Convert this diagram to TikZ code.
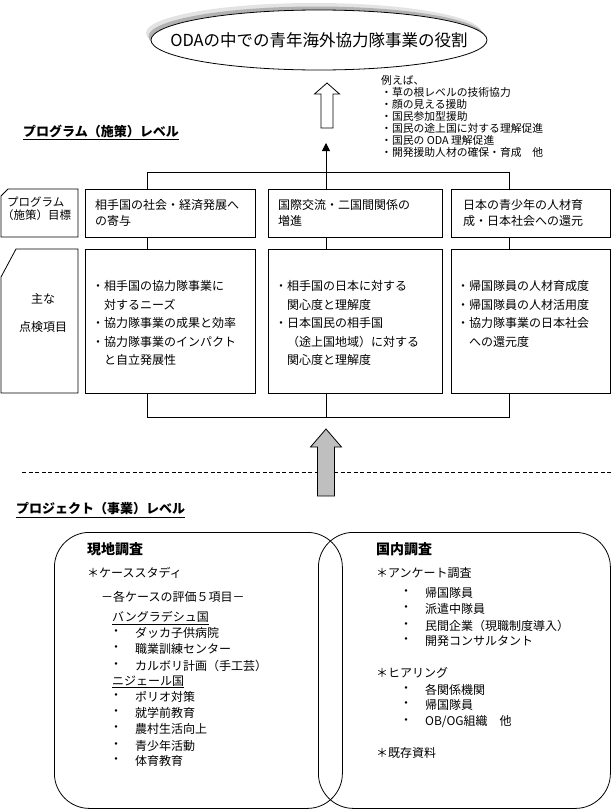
\documentclass[tikz,border=0pt]{standalone}
\usepackage{fontspec}
\setmainfont{Noto Sans CJK JP}
\usetikzlibrary{
  arrows.meta,
  positioning,
  shadows,
  shapes.geometric,
}
\tikzstyle{link} = [line width=0.8pt]
\tikzstyle{box} = [
  draw,
  line width=0.8pt,
  rectangle,
  anchor=north west,
  inner sep=0pt,
]
\tikzstyle{survey} = [
  draw,
  line width=0.8pt,
  rectangle,
  rounded corners=35pt,
  anchor=north west,
  inner sep=0pt,
]
\tikzstyle{goal} = [
  ellipse,
  draw,
  line width=0.8pt,
  fill=white,
  minimum width=336pt,
  minimum height=60pt,
  drop shadow={shadow xshift=-5pt, shadow yshift=7pt, fill=gray!22, opacity=1},
  drop shadow={shadow xshift=-2.5pt, shadow yshift=3.5pt, fill=gray!60, opacity=1},
]
\tikzstyle{txt} = [anchor=base west, inner sep=0pt, align=left, font=\fontsize{12}{16}\selectfont]
\tikzstyle{item} = [anchor=west, inner sep=0pt, font=\fontsize{12}{14}\selectfont]
\tikzstyle{level} = [anchor=west, inner sep=0pt, font=\fontsize{13}{15}\selectfont\bfseries]

\begin{document}
\begin{tikzpicture}[x=1pt, y=-1pt]
        \useasboundingbox (0,0) rectangle (612,811);

        \node [goal] (role) at (319,40) {};
        \node [font=\fontsize{16.5}{18}\selectfont] (roletext) at (role.center)
              {ODAの中での青年海外協力隊事業の役割};

        \coordinate (uptip) at (327,83);
        \draw [link, fill=white] (uptip) -- ++(12.5,11) -- ++(-6.5,0) -- ++(0,34)
              -- ++(-12,0) -- ++(0,-34) -- ++(-6.5,0) -- cycle;

        \node [txt, font=\fontsize{10.8}{12}\selectfont] (examples) at (381,156)
              {例えば、\\・草の根レベルの技術協力\\・顔の見える援助\\・国民参加型援助\\%
               ・国民の途上国に対する理解促進\\・国民の ODA 理解促進\\・開発援助人材の確保・育成　他};

        \node [level] (proglevel) at (23,132) {\underline{プログラム（施策）レベル}};

        \coordinate (jl) at (147,172);
        \coordinate (jm) at (326,172);
        \coordinate (jr) at (509,172);
        \coordinate (pointer) at (326,143);
        \draw [link] (jl) -- (jr);
        \draw [link, -{Triangle[width=8pt,length=8pt]}] (jm) -- (pointer);

        \draw [link] (1,196) -- (8,189) -- (78,189) -- (78,237) -- (1,237) -- cycle;
        \node [txt, font=\fontsize{11.5}{13}\selectfont] (goallabel) at (7,219)
              {プログラム\\\hspace*{-5pt}（施策）目標};

        \node [box, minimum width=170pt, minimum height=48pt] (goal1) at (85,189) {};
        \node [box, minimum width=174pt, minimum height=48pt] (goal2) at (268,189) {};
        \node [box, minimum width=159pt, minimum height=48pt] (goal3) at (451,189) {};

        \node [txt] (goal1text) at (95,225.5) {相手国の社会・経済発展へ\\の寄与};
        \node [txt] (goal2text) at (278,225.5) {国際交流・二国間関係の\\増進};
        \node [txt] (goal3text) at (463,225.5) {日本の青少年の人材育\\成・日本社会への還元};

        \draw [link] (jl) -- (jl |- goal1.north);
        \draw [link] (jm) -- (jm |- goal2.north);
        \draw [link] (jr) -- (jr |- goal3.north);

        \draw [link] (1,277) -- (16,249) -- (78,249) -- (78,393) -- (1,393) -- cycle;
        \node [item] (checklabel1) at (31,299) {主な};
        \node [item] (checklabel2) at (19,327) {点検項目};

        \node [box, minimum width=170pt, minimum height=144pt] (check1) at (85,249) {};
        \node [box, minimum width=174pt, minimum height=144pt] (check2) at (268,249) {};
        \node [box, minimum width=159pt, minimum height=144pt] (check3) at (451,249) {};

        \node [txt, font=\fontsize{12}{18.5}\selectfont] (check1text) at (92,364.5)
              {・相手国の協力隊事業に\\\hspace*{1em}対するニーズ\\・協力隊事業の成果と効率\\%
               ・協力隊事業のインパクト\\\hspace*{1em}と自立発展性};
        \node [txt, font=\fontsize{12}{18.5}\selectfont] (check2text) at (275,364.5)
              {・相手国の日本に対する\\\hspace*{1em}関心度と理解度\\・日本国民の相手国\\%
               \hspace*{1em}（途上国地域）に対する\\\hspace*{1em}関心度と理解度};
        \node [txt, font=\fontsize{12}{18.5}\selectfont] (check3text) at (457,346)
              {・帰国隊員の人材育成度\\・帰国隊員の人材活用度\\・協力隊事業の日本社会\\%
               \hspace*{1em}への還元度};

        \draw [link] (goal1.south -| jl) -- (check1.north -| jl);
        \draw [link] (goal2.south -| jm) -- (check2.north -| jm);
        \draw [link] (goal3.south -| jr) -- (check3.north -| jr);

        \coordinate (bl) at (147,417);
        \coordinate (bm) at (326,417);
        \coordinate (br) at (509,417);
        \draw [link] (check1.south -| bl) -- (bl) -- (br) -- (check3.south -| br);
        \draw [link] (check2.south -| bm) -- (bm);

        \draw [link, dash pattern=on 4pt off 2.5pt] (22,472) -- (612,472);

        \coordinate (gtip) at (326,429);
        \draw [link, fill=gray!50] (gtip) -- ++(15.5,18) -- ++(-7,0) -- ++(0,49)
              -- ++(-17,0) -- ++(0,-49) -- ++(-7,0) -- cycle;

        \node [level] (projlevel) at (16,510) {\underline{プロジェクト（事業）レベル}};

        \node [survey, minimum width=288pt, minimum height=276pt] (field) at (54,532) {};
        \node [survey, minimum width=292pt, minimum height=276pt] (home) at (318,532) {};

        \node [item, font=\fontsize{14}{16}\selectfont\bfseries] (fieldtitle) at (87,549) {現地調査};
        \node [item] (casestudy) at (87,573) {＊ケーススタディ};
        \node [item] (fiveitems) at (101,597) {－各ケースの評価５項目－};
        \node [item] (bangladesh) at (112,618) {\underline{バングラデシュ国}};
        \foreach \t/\y [count=\i] in {ダッカ子供病院/633, 職業訓練センター/649, カルボリ計画（手工芸）/666} {
          \node [item, anchor=center] (bddot\i) at (116,\y) {・};
          \node [item] (bd\i) at (135,\y) {\t};
        }
        \node [item] (niger) at (112,682) {\underline{ニジェール国}};
        \foreach \t/\y [count=\i] in {ポリオ対策/697, 就学前教育/713, 農村生活向上/729, 青少年活動/746, 体育教育/761} {
          \node [item, anchor=center] (ngdot\i) at (116,\y) {・};
          \node [item] (ng\i) at (135,\y) {\t};
        }

        \node [item, font=\fontsize{14}{16}\selectfont\bfseries] (hometitle) at (376,549) {国内調査};
        \node [item] (questionnaire) at (376,573) {＊アンケート調査};
        \foreach \t/\y [count=\i] in {帰国隊員/593, 派遣中隊員/609, 民間企業（現職制度導入）/626, 開発コンサルタント/641} {
          \node [item, anchor=center] (qdot\i) at (406,\y) {・};
          \node [item] (q\i) at (425,\y) {\t};
        }
        \node [item] (hearing) at (376,673) {＊ヒアリング};
        \foreach \t/\y [count=\i] in {各関係機関/690, 帰国隊員/705, {OB/OG組織　他}/722} {
          \node [item, anchor=center] (hdot\i) at (406,\y) {・};
          \node [item] (h\i) at (425,\y) {\t};
        }
        \node [item] (records) at (376,753) {＊既存資料};
      \end{tikzpicture}
\end{document}
